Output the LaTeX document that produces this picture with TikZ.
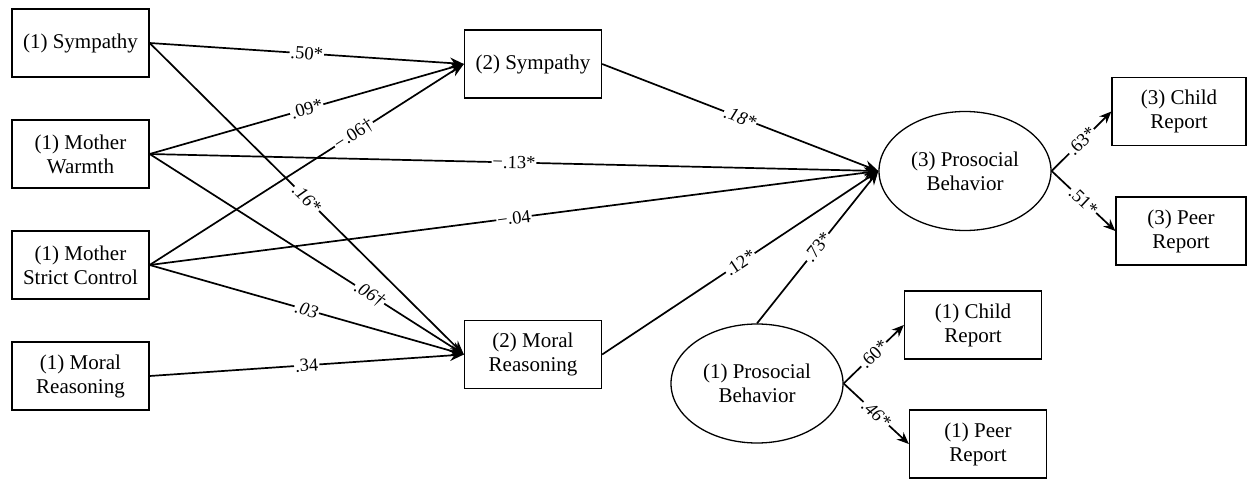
\documentclass[tikz,border=0pt]{standalone}
\usepackage{fontspec}
\setmainfont{Liberation Serif}
\newfontfamily\tnr{Liberation Serif}
\usetikzlibrary{shapes.geometric,arrows.meta}
\begin{document}
\begin{tikzpicture}[x=1pt,y=-1pt,
  varbox/.style={draw,line width=1.3pt,minimum width=137pt,minimum height=68pt,inner sep=2pt,align=center,font=\tnr\fontsize{21}{24}\selectfont},
  latent/.style={draw,ellipse,line width=1.3pt,minimum width=172pt,minimum height=119pt,inner sep=0pt,align=center,font=\tnr\fontsize{21}{24}\selectfont},
  path/.style={line width=1.7pt,-{Stealth[length=14pt,width=11pt]}},
  load/.style={line width=1.7pt,-{Stealth[length=12pt,width=10pt]}},
  coef/.style={sloped,fill=white,inner sep=1pt,font=\tnr\fontsize{18.5}{20}\selectfont}]
\useasboundingbox (0,0) rectangle (1248,479);
\node[varbox] (s1) at (80.5,43) {(1) Sympathy};
\node[varbox] (w1) at (80.5,154) {(1) Mother\\Warmth};
\node[varbox] (c1) at (80.5,265) {(1) Mother\\Strict Control};
\node[varbox] (r1) at (80.5,376) {(1) Moral\\Reasoning};
\node[varbox] (s2) at (533,64) {(2) Sympathy};
\node[varbox] (r2) at (533,354.5) {(2) Moral\\Reasoning};
\node[latent] (p3) at (965,171) {(3) Prosocial\\Behavior};
\node[latent] (p1) at (757,383.5) {(1) Prosocial\\Behavior};
\node[varbox,minimum width=134pt] (ch3) at (1179,111.5) {(3) Child\\Report};
\node[varbox,minimum width=130pt] (pe3) at (1181,231) {(3) Peer\\Report};
\node[varbox] (ch1) at (973,325) {(1) Child\\Report};
\node[varbox] (pe1) at (978,444) {(1) Peer\\Report};
\draw[path] (s1.east) -- node[coef]{.50*} (s2.west);
\draw[path] (w1.east) -- node[coef]{.09*} (s2.west);
\draw[path] (c1.east) -- node[coef,pos=0.65]{\textminus.06\dag} (s2.west);
\draw[path] (s1.east) -- node[coef]{\itshape .16*} (r2.west);
\draw[path] (w1.east) -- node[coef,pos=0.7]{\itshape .06\dag} (r2.west);
\draw[path] (c1.east) -- node[coef]{\itshape .03} (r2.west);
\draw[path] (r1.east) -- node[coef]{.34} (r2.west);
\draw[path] (w1.east) -- node[coef]{\textminus.13*} (p3.west);
\draw[path] (c1.east) -- node[coef]{\textminus.04} (p3.west);
\draw[path] (s2.east) -- node[coef]{\itshape .18*} (p3.west);
\draw[path] (r2.east) -- node[coef]{.12*} (p3.west);
\draw[path] (p1.north) -- node[coef]{.73*} (p3.west);
\draw[load] (p3.east) -- node[coef]{.63*} (ch3.west);
\draw[load] (p3.east) -- node[coef]{.51*} (pe3.west);
\draw[load] (p1.east) -- node[coef]{.60*} (ch1.west);
\draw[load] (p1.east) -- node[coef]{\itshape .46*} (pe1.west);
\end{tikzpicture}
\end{document}
